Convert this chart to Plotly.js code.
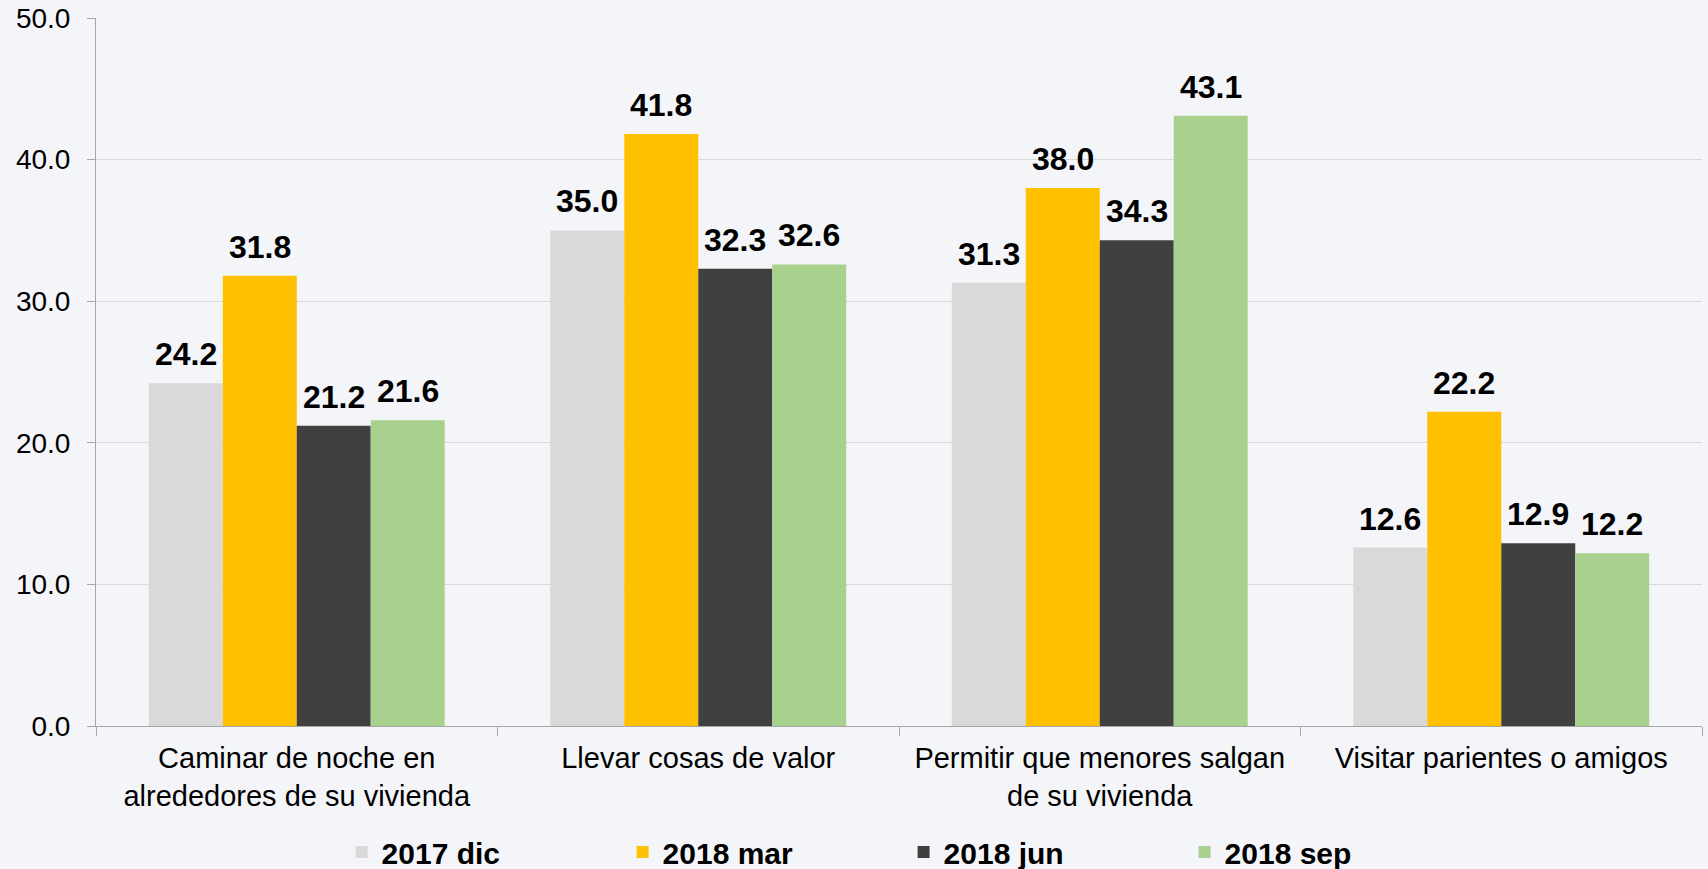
<!DOCTYPE html>
<html>
<head>
<meta charset="utf-8">
<script src="https://cdn.plot.ly/plotly-3.0.1.min.js"></script>
<style>
html,body{margin:0;padding:0;background:#F4F5F9;}
#chart{width:1708px;height:869px;}
</style>
</head>
<body>
<div id="chart"></div>
<script>
const categories = [
  "Caminar de noche en<br>alrededores de su vivienda",
  "Llevar cosas de valor",
  "Permitir que menores salgan<br>de su vivienda",
  "Visitar parientes o amigos"
];
const seriesNames = ["2017 dic", "2018 mar", "2018 jun", "2018 sep"];
const dic2017 = [24.2, 35.0, 31.3, 12.6];
const mar2018 = [31.8, 41.8, 38.0, 22.2];
const jun2018 = [21.2, 32.3, 34.3, 12.9];
const sep2018 = [21.6, 32.6, 43.1, 12.2];
const yTicks = [0, 10, 20, 30, 40, 50];

const seriesValues = [dic2017, mar2018, jun2018, sep2018];
const colors = ["#D9D9D9", "#FFC000", "#404040", "#A9D18E"];
const FONT = "Arial, 'Liberation Sans', sans-serif";
const BARGAP = 0.263;

const traces = seriesValues.map((vals, i) => ({
  type: "bar",
  name: seriesNames[i],
  x: categories,
  y: vals,
  marker: {color: colors[i], line: {width: 0}},
  hoverinfo: "skip"
}));

// value labels placed above each bar, positioned from the same group geometry
const groupW = 1 - BARGAP;
const barW = groupW / seriesValues.length;
const annotations = [];
seriesValues.forEach((vals, i) => {
  vals.forEach((v, j) => {
    annotations.push({
      xref: "x", yref: "y",
      x: j - groupW / 2 + (i + 0.5) * barW,
      y: v,
      text: v.toFixed(1),
      showarrow: false,
      yanchor: "middle",
      xanchor: "center",
      yshift: 29,
      font: {family: FONT, size: 32, color: "#000000", weight: "bold"}
    });
  });
});

const layout = {
  width: 1708,
  height: 869,
  paper_bgcolor: "#F4F5F9",
  plot_bgcolor: "#F4F5F9",
  margin: {l: 96, r: 6, t: 18, b: 143, pad: 0, autoexpand: false},
  barmode: "group",
  bargap: BARGAP,
  bargroupgap: 0,
  font: {family: FONT, color: "#000000"},
  annotations: annotations,
  xaxis: {
    type: "category",
    showgrid: false,
    showline: true,
    linecolor: "#A6A6A6",
    linewidth: 1,
    ticks: "outside",
    tickson: "boundaries",
    ticklen: 9,
    tickcolor: "#A6A6A6",
    tickfont: {family: FONT, size: 29, color: "#000000"},
    ticklabelstandoff: 6,
    tickangle: 0,
    automargin: false,
    fixedrange: true
  },
  yaxis: {
    range: [0, 50],
    tickvals: yTicks,
    tickformat: ".1f",
    showgrid: true,
    gridcolor: "#D9D9D9",
    gridwidth: 1,
    zeroline: false,
    showline: true,
    linecolor: "#A6A6A6",
    linewidth: 1,
    ticks: "outside",
    ticklen: 8,
    tickcolor: "#A6A6A6",
    tickfont: {family: FONT, size: 28, color: "#000000"},
    ticklabelstandoff: 11,
    automargin: false,
    fixedrange: true
  },
  showlegend: true,
  legend: {
    orientation: "h",
    xref: "container",
    yref: "container",
    x: 0.2,
    xanchor: "left",
    y: 0.0195,
    yanchor: "middle",
    entrywidth: 236,
    entrywidthmode: "pixels",
    bgcolor: "rgba(0,0,0,0)",
    font: {family: FONT, size: 30, color: "#000000", weight: "bold"},
    traceorder: "normal"
  }
};

Plotly.newPlot("chart", traces, layout, {displayModeBar: false, staticPlot: true});
</script>
</body>
</html>
